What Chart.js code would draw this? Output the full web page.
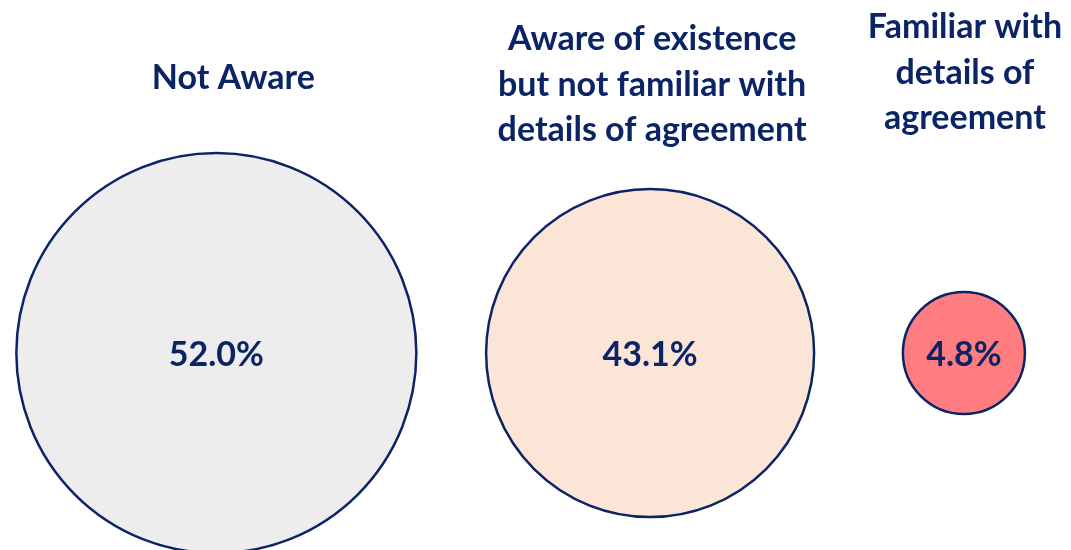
<!DOCTYPE html>
<html>
<head>
<meta charset="utf-8">
<script src="https://cdn.jsdelivr.net/npm/chart.js@4"></script>
<style>
  html, body { margin: 0; padding: 0; background: #fff; }
  #wrap { width: 1071px; height: 550px; }
</style>
</head>
<body>
<div id="wrap"><canvas id="awareness"></canvas></div>
<script>
// data
const categories = [
  ["Not Aware"],
  ["Aware of existence", "but not familiar with", "details of agreement"],
  ["Familiar with", "details of", "agreement"],
];
const shares = [52.0, 43.1, 4.8];
const bubbleRadius = [200, 164, 61]; // as drawn, not strictly area-proportional
const xPos = [20.2, 60.7, 90.0];
const fills = ["#EDEDED", "#FBE5D6", "#FF7C80"];

const navy = "#0B2466";

const labelPlugin = {
  id: "bubbleLabels",
  afterDatasetsDraw(chart, args, opts) {
    const ctx = chart.ctx;
    const meta = chart.getDatasetMeta(0);
    ctx.save();
    ctx.fillStyle = navy;
    ctx.textAlign = "center";
    ctx.font = "bold 34px Lato";
    meta.data.forEach((el, i) => {
      // value inside the bubble
      ctx.textBaseline = "middle";
      ctx.fillText(shares[i].toFixed(1) + "%", el.x, el.y + 2);

      // category title above
      ctx.textBaseline = "alphabetic";
      const top = opts.titleBaseline[i];
      categories[i].forEach((ln, j) => {
        ctx.fillText(ln, el.x + opts.titleShift[i], top + j * opts.lineHeight);
      });
    });
    ctx.restore();
  },
};

new Chart(document.getElementById("awareness"), {
  type: "bubble",
  data: {
    datasets: [
      {
        data: shares.map((v, i) => ({ x: xPos[i], y: 0, r: bubbleRadius[i] })),
        backgroundColor: fills,
        borderColor: navy,
        borderWidth: 2.5,
        hoverRadius: 0,
        clip: false,
      },
    ],
  },
  options: {
    responsive: true,
    maintainAspectRatio: false,
    animation: false,
    layout: { padding: 0, autoPadding: false },
    scales: {
      x: { display: false, min: 0, max: 100 },
      y: { display: false, min: -0.358, max: 0.642 },
    },
    plugins: {
      legend: { display: false },
      tooltip: { enabled: false },
      bubbleLabels: {
        titleBaseline: [89, 50, 38],
        titleShift: [17, 2, 1],
        lineHeight: 45.5,
      },
    },
  },
  plugins: [labelPlugin],
});
</script>
</body>
</html>
